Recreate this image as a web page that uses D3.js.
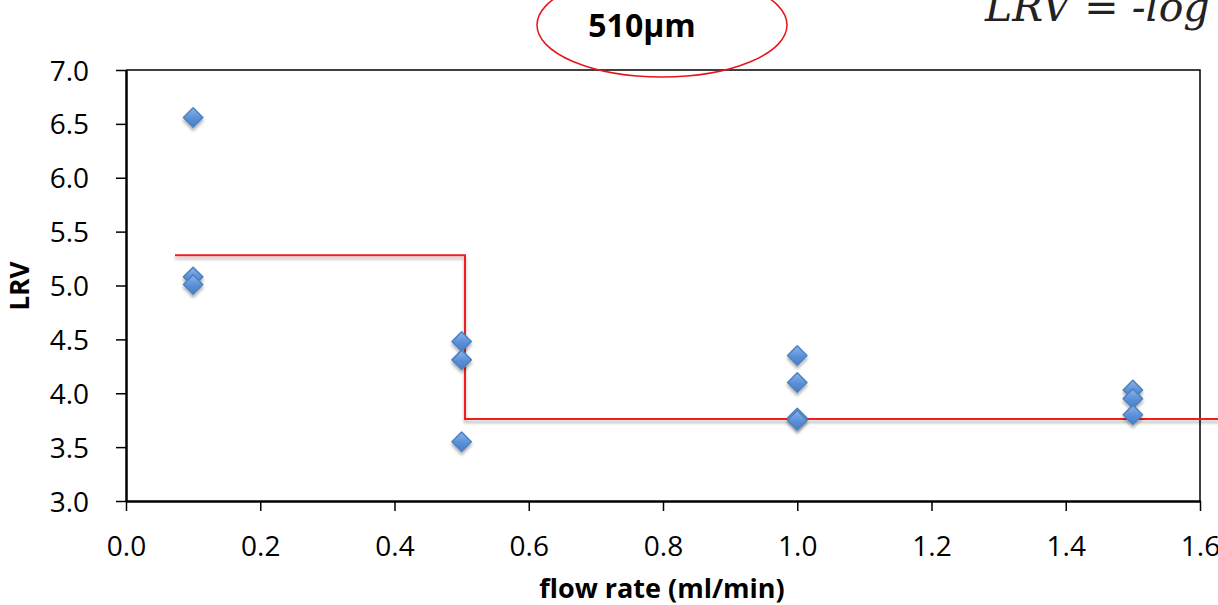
<!DOCTYPE html>
<html>
<head>
<meta charset="utf-8">
<script src="https://cdn.jsdelivr.net/npm/d3@7"></script>
<style>
  body { margin: 0; background: #fff; }
  svg { display: block; }
</style>
</head>
<body>
<div id="chart"></div>
<script>
// measured LRV values per flow rate
var flowRates = [0.1, 0.1, 0.1, 0.5, 0.5, 0.5, 1.0, 1.0, 1.0, 1.0, 1.5, 1.5, 1.5];
var lrvValues = [6.56, 5.08, 5.01, 4.48, 4.31, 3.55, 4.35, 4.10, 3.77, 3.75, 4.03, 3.95, 3.80];

// red step line drawn over the chart
var stepX = [0.073, 0.505, 0.505, 1.63];
var stepY = [5.28, 5.28, 3.76, 3.76];

var xTicks = [0, 0.2, 0.4, 0.6, 0.8, 1.0, 1.2, 1.4, 1.6];
var yTicks = [3.0, 3.5, 4.0, 4.5, 5.0, 5.5, 6.0, 6.5, 7.0];

var width = 1218, height = 605;
var margin = {top: 70, right: 18, bottom: 104, left: 126};

var svg = d3.select("#chart").append("svg")
    .attr("width", width)
    .attr("height", height);

var defs = svg.append("defs");
var grad = defs.append("linearGradient")
    .attr("id", "dia")
    .attr("x1", 0).attr("y1", 0).attr("x2", 0).attr("y2", 1);
grad.append("stop").attr("offset", "0%").attr("stop-color", "#8db4ea");
grad.append("stop").attr("offset", "55%").attr("stop-color", "#5a8fd8");
grad.append("stop").attr("offset", "100%").attr("stop-color", "#4a7ec6");
var shadow = defs.append("filter").attr("id", "shadow")
    .attr("x", "-50%").attr("y", "-50%").attr("width", "200%").attr("height", "200%");
shadow.append("feDropShadow")
    .attr("dx", 0).attr("dy", 3).attr("stdDeviation", 1.8)
    .attr("flood-color", "#000").attr("flood-opacity", 0.3);

var x = d3.scaleLinear().domain([0, 1.6]).range([margin.left, width - margin.right]);
var y = d3.scaleLinear().domain([3, 7]).range([height - margin.bottom, margin.top]);

// frame top and right
svg.append("path")
    .attr("d", `M${x(0)},${y(7)}H${x(1.6)}V${y(3)}`)
    .attr("fill", "none")
    .attr("stroke", "#000")
    .attr("stroke-width", 1.5);

var xAxis = svg.append("g")
    .attr("transform", `translate(0,${y(3)})`)
    .call(d3.axisBottom(x).tickValues(xTicks).tickFormat(d3.format(".1f")).tickSize(10).tickSizeOuter(0));
var yAxis = svg.append("g")
    .attr("transform", `translate(${x(0)},0)`)
    .call(d3.axisLeft(y).tickValues(yTicks).tickFormat(d3.format(".1f")).tickSize(10).tickSizeOuter(0));

[xAxis, yAxis].forEach(function(g) {
    g.select(".domain").attr("stroke", "#000").attr("stroke-width", 2.5);
    g.selectAll(".tick line").attr("stroke", "#000").attr("stroke-width", 1.5);
    g.selectAll(".tick text")
        .attr("fill", "#000")
        .style("font-family", "'Open Sans', sans-serif")
        .style("font-size", "28px");
});
xAxis.selectAll(".tick text").attr("y", 9).attr("dy", "1.65em");
yAxis.selectAll(".tick text").attr("x", -37).attr("dy", "0.36em");

// step line
var line = d3.line().x(d => x(d[0])).y(d => y(d[1]));
svg.append("path")
    .datum(d3.zip(stepX, stepY))
    .attr("d", line)
    .attr("fill", "none")
    .attr("stroke", "#f21c1c")
    .attr("stroke-width", 2)
    .attr("filter", "url(#shadow)");

// diamond markers
var diamond = d3.symbol().type(d3.symbolDiamond2).size(240);
svg.append("g")
    .selectAll("path")
    .data(d3.zip(flowRates, lrvValues))
    .join("path")
    .attr("d", diamond)
    .attr("transform", d => `translate(${x(d[0])},${y(d[1])})`)
    .attr("fill", "url(#dia)")
    .attr("stroke", "#4f81bd")
    .attr("stroke-width", 1.5)
    .attr("stroke-linejoin", "round")
    .attr("filter", "url(#shadow)");

// title ellipse
svg.append("ellipse")
    .attr("cx", 662).attr("cy", 25)
    .attr("rx", 125).attr("ry", 52)
    .attr("fill", "none")
    .attr("stroke", "#e8141b")
    .attr("stroke-width", 1.5);

svg.append("text")
    .attr("x", 642).attr("y", 37)
    .attr("text-anchor", "middle")
    .style("font-family", "'Open Sans', sans-serif")
    .style("font-weight", "bold")
    .style("font-size", "32px")
    .text("510µm");

svg.append("text")
    .attr("x", 985).attr("y", 21)
    .style("font-family", "'DejaVu Serif', serif")
    .style("font-style", "italic")
    .style("font-size", "41px")
    .attr("fill", "#222")
    .text("LRV = -log");

// axis titles
svg.append("text")
    .attr("x", 662).attr("y", 598)
    .attr("text-anchor", "middle")
    .style("font-family", "'Open Sans', sans-serif")
    .style("font-weight", "bold")
    .style("font-size", "27px")
    .text("flow rate (ml/min)");

svg.append("text")
    .attr("transform", "translate(29,286) rotate(-90)")
    .attr("text-anchor", "middle")
    .style("font-family", "'Open Sans', sans-serif")
    .style("font-weight", "bold")
    .style("font-size", "26px")
    .text("LRV");
</script>
</body>
</html>
